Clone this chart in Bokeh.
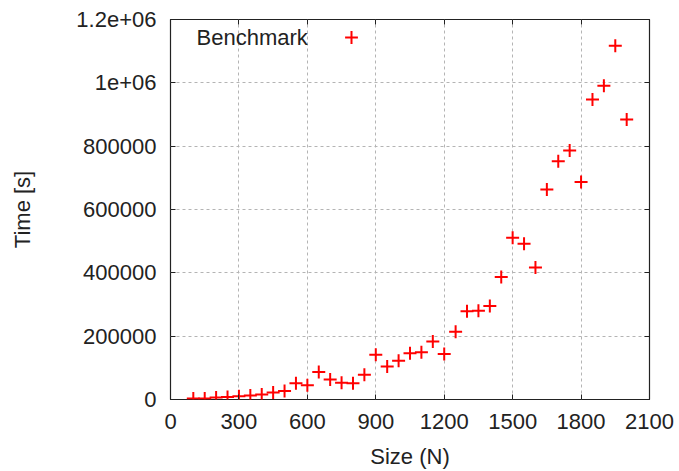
from bokeh.plotting import figure
from bokeh.models import (Range1d, FixedTicker, LinearAxis, Legend, LegendItem, Label)
from bokeh.embed import file_html
from bokeh.resources import INLINE

# ---- data ----
size_n = [100, 150, 200, 250, 300, 350, 400, 450, 500, 550, 600, 650, 700, 750, 800,
          850, 900, 950, 1000, 1050, 1100, 1150, 1200, 1250, 1300, 1350, 1400, 1450,
          1500, 1550, 1600, 1650, 1700, 1750, 1800, 1850, 1900, 1950, 2000]
time_s = [3000, 3500, 6000, 8000, 10000, 13000, 16000, 22000, 27000, 51000, 45000,
          87000, 63000, 53000, 51000, 78000, 141000, 104000, 122000, 146000, 149000,
          183000, 144000, 214000, 279000, 280000, 295000, 387000, 511000, 492000,
          417000, 663000, 752000, 786000, 687000, 947000, 991000, 1117000, 884000]
x_ticks = [0, 300, 600, 900, 1200, 1500, 1800, 2100]
y_ticks = [0, 200000, 400000, 600000, 800000, 1000000, 1200000]
y_tick_labels = ["0", "200000", "400000", "600000", "800000", "1e+06", "1.2e+06"]
series_name = "Benchmark"

FONT = "Liberation Sans"
FS = "22px"

p = figure(width=679, height=471, output_backend="svg", toolbar_location=None,
           x_range=Range1d(0, 2100), y_range=Range1d(0, 1200000),
           min_border_left=170, min_border_right=30, min_border_top=19,
           min_border_bottom=72)
p.background_fill_color = "white"
p.border_fill_color = "white"
p.outline_line_color = "#222222"
p.outline_line_width = 1.2

r = p.scatter(size_n, time_s, marker="cross", size=13, line_width=2,
              line_color="#ff0000", fill_color=None)

for ax in p.xaxis + p.yaxis:
    ax.axis_line_color = None
    ax.major_tick_in = 5
    ax.major_tick_out = 0
    ax.major_tick_line_color = "#222222"
    ax.minor_tick_line_color = None
    ax.major_label_text_font = FONT
    ax.major_label_text_font_size = FS
    ax.major_label_text_color = "#222222"
    ax.axis_label_text_font = FONT
    ax.axis_label_text_font_size = FS
    ax.axis_label_text_font_style = "normal"
    ax.axis_label_text_color = "#222222"

p.xaxis.ticker = FixedTicker(ticks=x_ticks)
p.yaxis.ticker = FixedTicker(ticks=y_ticks)
p.yaxis.major_label_overrides = {t: l for t, l in zip(y_ticks, y_tick_labels)}
p.xaxis.axis_label = "Size (N)"
p.yaxis.axis_label = "Time [s]"
p.xaxis.major_label_standoff = 14
p.xaxis.axis_label_standoff = 12
p.yaxis.major_label_standoff = 14
p.yaxis.axis_label_standoff = 38

# mirrored ticks on top and right (no labels)
top = LinearAxis(ticker=FixedTicker(ticks=x_ticks), axis_line_color=None,
                 major_tick_in=5, major_tick_out=0, major_tick_line_color="#222222",
                 minor_tick_line_color=None, major_label_standoff=0,
                 major_label_overrides={t: "" for t in x_ticks})
right = LinearAxis(ticker=FixedTicker(ticks=y_ticks), axis_line_color=None,
                   major_tick_in=5, major_tick_out=0, major_tick_line_color="#222222",
                   minor_tick_line_color=None, major_label_standoff=0,
                   major_label_overrides={t: "" for t in y_ticks})
p.add_layout(top, "above")
p.add_layout(right, "right")

p.xgrid.ticker = FixedTicker(ticks=x_ticks)
p.ygrid.ticker = FixedTicker(ticks=y_ticks)
for g in (p.xgrid, p.ygrid):
    g.grid_line_color = "#b4b4b4"
    g.grid_line_dash = "3 3"
    g.grid_line_width = 1

# key: text then sample marker (gnuplot style)
legend = Legend(items=[LegendItem(label=" ", renderers=[r])], location=(165, 346),
                padding=0, margin=0, spacing=0, glyph_width=32, glyph_height=32,
                label_standoff=0, label_width=0, label_height=20,
                label_text_font_size="12px", border_line_color=None,
                background_fill_alpha=0)
p.add_layout(legend, "center")

p.add_layout(Label(x=602, y=1143000, text=series_name, text_align="right",
                   text_baseline="middle", text_font=FONT, text_font_size=FS,
                   text_color="#222222"))

open("out.html", "w").write(file_html(p, INLINE))
